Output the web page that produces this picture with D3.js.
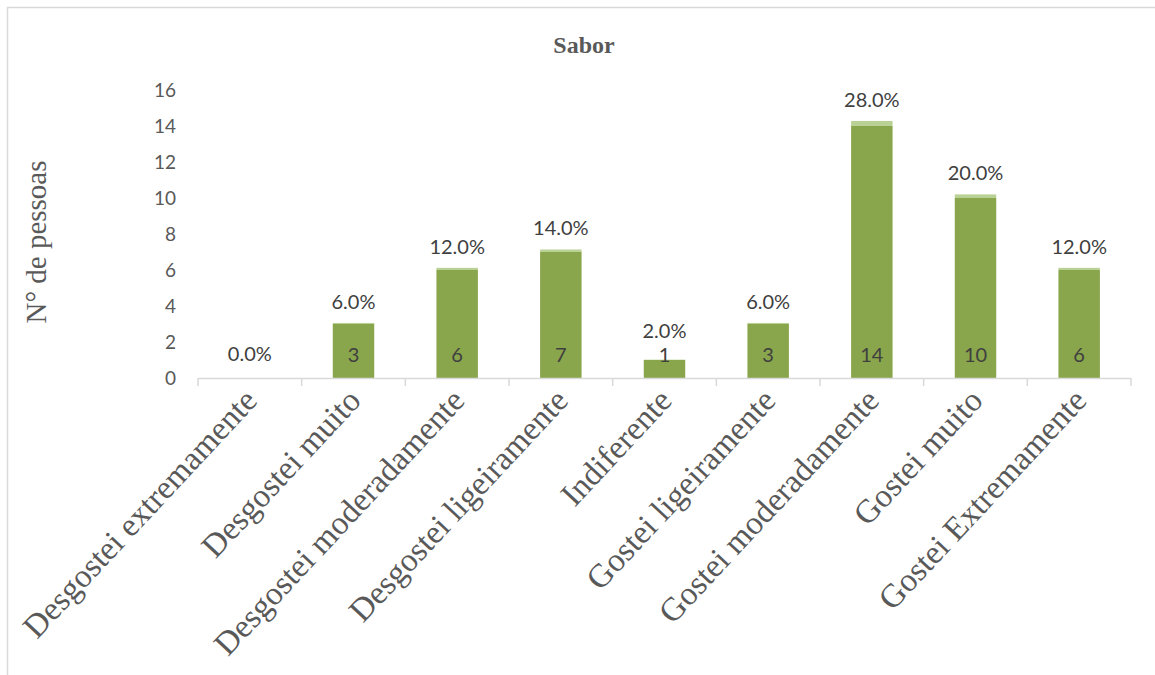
<!DOCTYPE html>
<html>
<head>
<meta charset="utf-8">
<script src="https://cdn.jsdelivr.net/npm/d3@7"></script>
<style>
  html, body { margin: 0; padding: 0; background: #fff; }
  svg { display: block; }
</style>
</head>
<body>
<svg id="chart" width="1155" height="675"></svg>
<script>
// Sensory evaluation of flavour: number of people per hedonic category
const categories = [
  "Desgostei extremamente",
  "Desgostei muito",
  "Desgostei moderadamente",
  "Desgostei ligeiramente",
  "Indiferente",
  "Gostei ligeiramente",
  "Gostei moderadamente",
  "Gostei muito",
  "Gostei Extremamente"
];
const counts = [0, 3, 6, 7, 1, 3, 14, 10, 6];
const shares = [0.00, 0.06, 0.12, 0.14, 0.02, 0.06, 0.28, 0.20, 0.12];
const yTicks = [0, 2, 4, 6, 8, 10, 12, 14, 16];

const svg = d3.select("#chart");
const W = 1155, H = 675;
const m = { left: 198, right: 24, top: 90, bottom: 297 };
const plotW = W - m.left - m.right;

// chart frame
svg.append("rect")
  .attr("x", 7.5).attr("y", 7.5)
  .attr("width", W + 10).attr("height", H + 10)
  .attr("fill", "none").attr("stroke", "#d9d9d9").attr("stroke-width", 1.5);

const x = d3.scaleBand().domain(categories).range([m.left, m.left + plotW]).paddingInner(0.6).paddingOuter(0.3);
const y = d3.scaleLinear().domain([0, 16]).range([378, 90]);

const sansFont = "Lato, 'Open Sans', sans-serif";
const serifFont = "'Liberation Serif', 'DejaVu Serif', serif";

// title
svg.append("text")
  .attr("x", 584).attr("y", 53)
  .attr("text-anchor", "middle")
  .attr("font-family", serifFont).attr("font-weight", "bold")
  .attr("font-size", 24).attr("fill", "#595959")
  .text("Sabor");

// y axis labels (no line)
const yAxis = d3.axisLeft(y).tickValues(yTicks).tickSize(0).tickPadding(0);
const gy = svg.append("g").attr("transform", "translate(176,0)").call(yAxis);
gy.select(".domain").remove();
gy.selectAll("text")
  .attr("font-family", sansFont).attr("font-size", 19).attr("fill", "#595959");

// y axis title
svg.append("text")
  .attr("transform", "translate(46,242) rotate(-90)")
  .attr("text-anchor", "middle")
  .attr("font-family", serifFont).attr("font-size", 29).attr("fill", "#595959")
  .text("N° de pessoas");

// bars: counts
svg.append("g").selectAll("rect.count")
  .data(categories)
  .join("rect")
  .attr("class", "count")
  .attr("x", d => x(d))
  .attr("width", x.bandwidth())
  .attr("y", (d, i) => y(counts[i]))
  .attr("height", (d, i) => y(0) - y(counts[i]))
  .attr("fill", "#8aa64c");

// stacked share segment on top
svg.append("g").selectAll("rect.share")
  .data(categories)
  .join("rect")
  .attr("class", "share")
  .attr("x", d => x(d))
  .attr("width", x.bandwidth())
  .attr("y", (d, i) => y(counts[i] + shares[i]))
  .attr("height", (d, i) => y(counts[i]) - y(counts[i] + shares[i]))
  .attr("fill", "#bad196");

// x axis line + tick marks at category boundaries
const step = plotW / categories.length;
const gx = svg.append("g");
gx.append("line")
  .attr("x1", m.left).attr("x2", m.left + plotW)
  .attr("y1", y(0) + 0.5).attr("y2", y(0) + 0.5)
  .attr("stroke", "#d9d9d9").attr("stroke-width", 1.5);
gx.selectAll("line.tick")
  .data(d3.range(categories.length + 1))
  .join("line")
  .attr("class", "tick")
  .attr("x1", i => m.left + i * step).attr("x2", i => m.left + i * step)
  .attr("y1", y(0)).attr("y2", y(0) + 8)
  .attr("stroke", "#d9d9d9").attr("stroke-width", 1.5);

// category labels rotated
gx.selectAll("text.cat")
  .data(categories)
  .join("text")
  .attr("class", "cat")
  .attr("text-anchor", "end")
  .attr("transform", d => `translate(${x(d) + x.bandwidth() / 2 + 9},${y(0) + 24}) rotate(-47)`)
  .attr("font-family", serifFont).attr("font-size", 33).attr("fill", "#595959")
  .text(d => d);

// count labels near base of bars (shown above very short bars)
const countBase = y(0) - 16;
svg.append("g").selectAll("text.countLabel")
  .data(categories.filter((d, i) => counts[i] > 0))
  .join("text")
  .attr("class", "countLabel")
  .attr("x", d => x(d) + x.bandwidth() / 2)
  .attr("y", countBase)
  .attr("text-anchor", "middle")
  .attr("font-family", sansFont).attr("font-size", 20).attr("fill", "#404040")
  .text(d => counts[categories.indexOf(d)]);

// percentage labels above bars, kept clear of the count label
svg.append("g").selectAll("text.shareLabel")
  .data(categories)
  .join("text")
  .attr("class", "shareLabel")
  .attr("x", d => x(d) + x.bandwidth() / 2)
  .attr("y", (d, i) => {
    const above = y(counts[i] + shares[i]) - 14;
    return counts[i] > 0 ? Math.min(above, countBase - 24) : above - 3;
  })
  .attr("text-anchor", "middle")
  .attr("font-family", sansFont).attr("font-size", 20).attr("fill", "#404040")
  .text((d, i) => d3.format(".1%")(shares[i]));
</script>
</body>
</html>
